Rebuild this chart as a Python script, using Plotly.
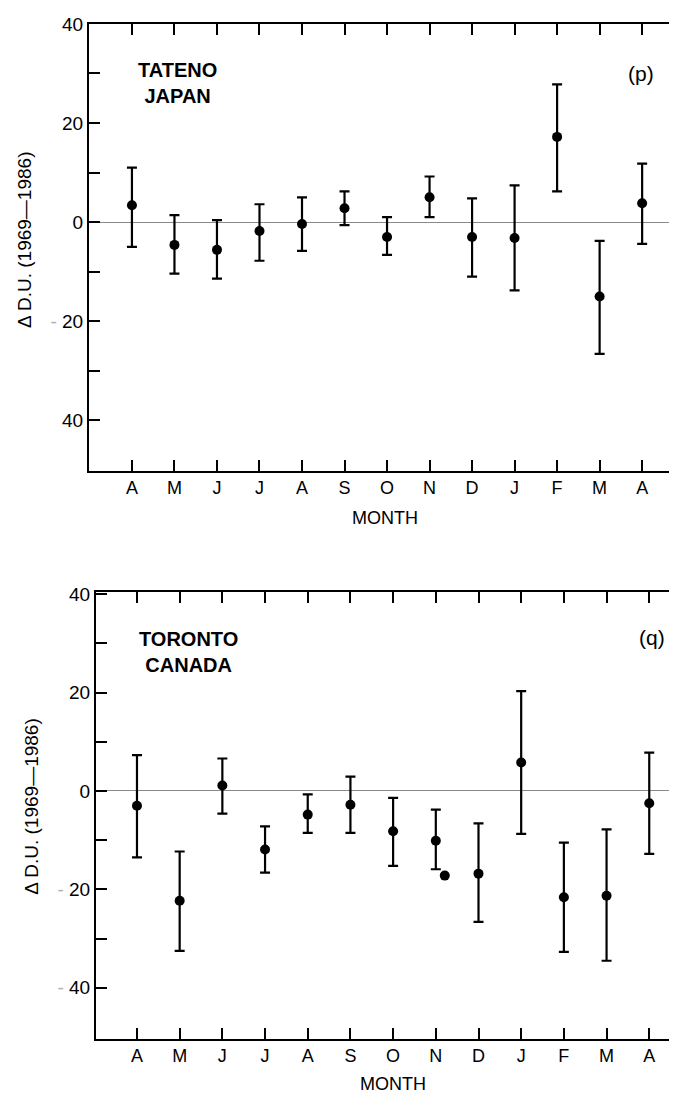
import plotly.graph_objects as go

W, H = 677, 1094
OFF = 8  # default page body margin; figure placed to line up with the window
FW, FH = W - OFF, H - OFF

months = ["A", "M", "J", "J", "A", "S", "O", "N", "D", "J", "F", "M", "A"]
month_idx = list(range(len(months)))

# Tateno, Japan (panel p)
tateno_val = [3.4, -4.6, -5.6, -1.8, -0.4, 2.8, -3.0, 5.0, -3.0, -3.2, 17.2, -15.0, 3.8]
tateno_hi = [11.0, 1.4, 0.4, 3.6, 5.0, 6.2, 1.0, 9.2, 4.8, 7.4, 27.8, -3.8, 11.8]
tateno_lo = [-5.0, -10.4, -11.4, -7.8, -5.8, -0.6, -6.6, 1.0, -11.0, -13.8, 6.2, -26.6, -4.4]

# Toronto, Canada (panel q)
toronto_val = [-3.0, -22.3, 1.1, -11.9, -4.8, -2.8, -8.2, -10.1, -16.8, 5.8, -21.6, -21.3, -2.5]
toronto_hi = [7.3, -12.3, 6.6, -7.2, -0.7, 2.9, -1.4, -3.8, -6.6, 20.3, -10.5, -7.8, 7.8]
toronto_lo = [-13.5, -32.5, -4.6, -16.6, -8.5, -8.5, -15.2, -15.9, -26.6, -8.7, -32.7, -34.5, -12.8]
# stray extra dot printed beside November in panel q
toronto_extra_x = [7.21]
toronto_extra_y = [-17.2]

ytick_vals = [-40, -30, -20, -10, 0, 10, 20, 30, 40]
dash = "<span style='color:#b0b0b0'>-</span> "
ytick_text_p = ["40", "", dash + "20", "", "0", "", "20", "", "40"]
ytick_text_q = [dash + "40", "", dash + "20", "", "0", "", "20", "", "40"]

FONT = "Liberation Sans, Arial, Helvetica, sans-serif"


def px(x):
    return (x - OFF) / FW


def py(y):
    return 1 - (y - OFF) / FH


fig = go.Figure()


def add_panel(val, hi, lo, xa, ya):
    fig.add_trace(go.Scatter(
        x=month_idx, y=val, mode="markers", xaxis=xa, yaxis=ya,
        marker=dict(color="black", size=10),
        error_y=dict(type="data", symmetric=False,
                     array=[h - v for h, v in zip(hi, val)],
                     arrayminus=[v - l for v, l in zip(val, lo)],
                     color="black", thickness=2.2, width=5),
        showlegend=False, hoverinfo="skip"))


add_panel(tateno_val, tateno_hi, tateno_lo, "x", "y")
add_panel(toronto_val, toronto_hi, toronto_lo, "x2", "y2")
fig.add_trace(go.Scatter(x=toronto_extra_x, y=toronto_extra_y, mode="markers",
                         xaxis="x2", yaxis="y2",
                         marker=dict(color="black", size=10),
                         showlegend=False, hoverinfo="skip"))

xcommon = dict(tickmode="array", tickvals=month_idx, ticktext=months,
               ticks="inside", ticklen=11, tickwidth=1.5, tickcolor="black",
               showline=True, linecolor="black", linewidth=2, mirror="ticks",
               showgrid=False, zeroline=False,
               tickfont=dict(family=FONT, size=18, color="black"))
ycommon = dict(tickmode="array", tickvals=ytick_vals,
               ticks="inside", ticklen=11, tickwidth=1.5, tickcolor="black",
               showline=True, linecolor="black", linewidth=2, mirror=False,
               showgrid=False, zeroline=True, zerolinecolor="#8a8a8a", zerolinewidth=1,
               tickfont=dict(family=FONT, size=19, color="black"))

top_dom = [py(465), py(14)]
bot_dom = [py(1038), py(587)]

fig.update_layout(
    width=FW, height=FH,
    margin=dict(l=0, r=0, t=0, b=0),
    paper_bgcolor="white", plot_bgcolor="white",
    xaxis=dict(domain=[px(89), 1], range=[-1.01, 12.82], anchor="y", **xcommon),
    yaxis=dict(domain=top_dom, range=[-50.2, 40], anchor="x", ticktext=ytick_text_p, **ycommon),
    yaxis3=dict(domain=top_dom, range=[-50.2, 40], overlaying="y", side="right", anchor="x",
                tickmode="array", tickvals=[-40, -30, -20, -10, 0, 10, 20, 30],
                ticks="inside", ticklen=6, tickwidth=1.5, tickcolor="black",
                showline=False, showticklabels=False, showgrid=False, zeroline=False),
    xaxis2=dict(domain=[px(96), 1], range=[-0.96, 12.65], anchor="y2", **xcommon),
    yaxis2=dict(domain=bot_dom, range=[-50.3, 40.5], anchor="x2", ticktext=ytick_text_q, **ycommon),
)
# dummy trace so yaxis3 is rendered
fig.add_trace(go.Scatter(x=[None], y=[None], xaxis="x", yaxis="y3", showlegend=False, hoverinfo="skip"))

ann = []


def text(x, y, s, size, bold=False, angle=0):
    ann.append(dict(x=px(x), y=py(y), xref="paper", yref="paper",
                    text=("<b>" + s + "</b>") if bold else s,
                    showarrow=False, textangle=angle, xanchor="center", yanchor="middle",
                    font=dict(family=FONT, size=size, color="black")))


text(177, 74, "TATENO<br>JAPAN", 20, bold=True)
text(188, 648, "TORONTO<br>CANADA", 20, bold=True)
text(641, 64, "(p)", 21)
text(652, 633, "(q)", 21)
text(385, 513, "MONTH", 18)
text(393, 1084, "MONTH", 18)
text(25, 232, "Δ D.U. (1969—1986)", 19, angle=-90)
text(32, 804, "Δ D.U. (1969—1986)", 19, angle=-90)

fig.update_layout(annotations=ann)

fig.write_html("out.html")
